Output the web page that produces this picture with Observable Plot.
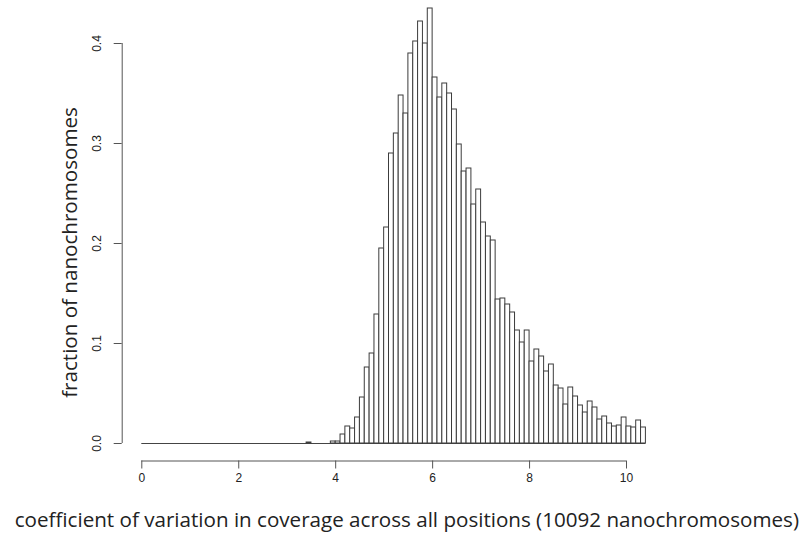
<!DOCTYPE html>
<html>
<head>
<meta charset="utf-8">
<script src="https://cdn.jsdelivr.net/npm/d3@7"></script>
<script src="https://cdn.jsdelivr.net/npm/@observablehq/plot@0.6"></script>
<style>
  html, body { margin: 0; padding: 0; background: #fff; }
  #chart { width: 807px; height: 535px; }
</style>
</head>
<body>
<div id="chart"></div>
<script>
// Histogram bins (left edges, width 0.1) from 3.4 up to 10.3
const binStart = [
  3.4, 3.5, 3.6, 3.7, 3.8, 3.9,
  4.0, 4.1, 4.2, 4.3, 4.4, 4.5, 4.6, 4.7, 4.8, 4.9,
  5.0, 5.1, 5.2, 5.3, 5.4, 5.5, 5.6, 5.7, 5.8, 5.9,
  6.0, 6.1, 6.2, 6.3, 6.4, 6.5, 6.6, 6.7, 6.8, 6.9,
  7.0, 7.1, 7.2, 7.3, 7.4, 7.5, 7.6, 7.7, 7.8, 7.9,
  8.0, 8.1, 8.2, 8.3, 8.4, 8.5, 8.6, 8.7, 8.8, 8.9,
  9.0, 9.1, 9.2, 9.3, 9.4, 9.5, 9.6, 9.7, 9.8, 9.9,
  10.0, 10.1, 10.2, 10.3
];
const binWidth = 0.1;
// fraction of nanochromosomes in each bin
const fraction = [
  0.001, 0, 0, 0, 0, 0.002,
  0.002, 0.009, 0.017, 0.015, 0.026, 0.046, 0.076, 0.090, 0.129, 0.195,
  0.216, 0.290, 0.310, 0.348, 0.330, 0.390, 0.402, 0.422, 0.400, 0.435,
  0.366, 0.346, 0.360, 0.350, 0.334, 0.299, 0.272, 0.275, 0.239, 0.254,
  0.221, 0.207, 0.203, 0.144, 0.145, 0.139, 0.131, 0.113, 0.101, 0.113,
  0.082, 0.094, 0.087, 0.072, 0.079, 0.058, 0.055, 0.039, 0.056, 0.047,
  0.038, 0.031, 0.042, 0.036, 0.024, 0.027, 0.020, 0.017, 0.018, 0.026,
  0.017, 0.016, 0.023, 0.016
];
const xTicks = [0, 2, 4, 6, 8, 10];
const yTicks = [0.0, 0.1, 0.2, 0.3, 0.4];
const xRange = [0, 10.4];
const xTitle = "coefficient of variation in coverage across all positions (10092 nanochromosomes)";
const yTitle = "fraction of nanochromosomes";

const bins = binStart.map((b, i) => ({x1: b, x2: +(b + binWidth).toFixed(1), y: fraction[i]}));

const tickFont = "'Liberation Sans', Arial, sans-serif";
const titleFont = "'Open Sans', sans-serif";

const chart = Plot.plot({
  width: 807,
  height: 535,
  marginLeft: 141.3,
  marginRight: 161.6,
  marginTop: 3,
  marginBottom: 92,
  style: {background: "#fff", color: "#222", overflow: "visible"},
  x: {domain: xRange, axis: null},
  y: {domain: [0, 0.44], axis: null},
  marks: [
    // baseline of empty bins
    Plot.ruleY([0], {x1: xRange[0], x2: xRange[1], stroke: "#444", strokeWidth: 1}),
    Plot.rectY(bins, {x1: "x1", x2: "x2", y: "y", fill: "#fff", stroke: "#3c3c3c", strokeWidth: 1, inset: 0}),
    // x axis
    Plot.ruleY([0], {x1: xTicks[0], x2: xTicks[xTicks.length - 1], dy: 17.5, stroke: "#555", strokeWidth: 1}),
    Plot.axisX(xTicks, {anchor: "bottom", label: null, tickSize: 8, dy: 17.5, tickPadding: 4, tickFormat: d => String(d), fontSize: 12, fontFamily: tickFont, stroke: "#555", fill: "#222"}),
    // y axis
    Plot.ruleX([0], {y1: yTicks[0], y2: yTicks[yTicks.length - 1], dx: -19.6, stroke: "#555", strokeWidth: 1}),
    Plot.axisY(yTicks, {anchor: "left", label: null, tickSize: 8, dx: -19.6, tickFormat: () => "", stroke: "#555"}),
    Plot.text(yTicks, {y: d => d, text: d => d.toFixed(1), frameAnchor: "left", dx: -44.6, rotate: -90, textAnchor: "middle", lineAnchor: "middle", fontSize: 12, fontFamily: tickFont, fill: "#222"}),
    // titles
    Plot.text([xTitle], {frameAnchor: "bottom", dx: 13, dy: 77, lineAnchor: "middle", fontSize: 20.6, fontFamily: titleFont, fill: "#222"}),
    Plot.text([yTitle], {frameAnchor: "left", dx: -71.3, dy: 29, rotate: -90, textAnchor: "middle", lineAnchor: "middle", fontSize: 20.6, fontFamily: titleFont, fill: "#222"})
  ]
});
document.getElementById("chart").appendChild(chart);
</script>
</body>
</html>
